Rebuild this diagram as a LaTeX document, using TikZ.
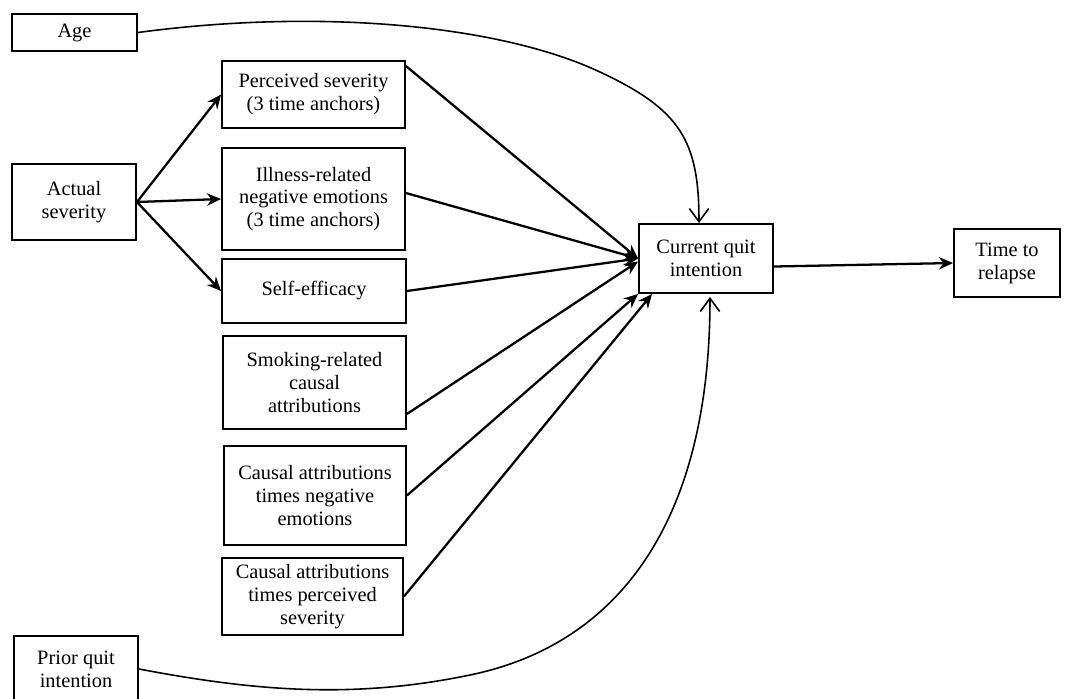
\documentclass[tikz,border=0pt]{standalone}
\usepackage{fontspec}
\setmainfont{Liberation Serif}
\usetikzlibrary{arrows.meta}
\usetikzlibrary{calc}

\tikzset{
	varbox/.style={draw, line width=1.1pt, align=center, inner sep=1pt, font=\fontsize{11.6}{13}\selectfont},
	effect/.style={line width=1.3pt, -{Stealth[length=8pt, width=7pt]}},
	control/.style={line width=0.9pt, -{Straight Barb[length=7.5pt, width=11pt]}},
}

\begin{document}
\begin{tikzpicture}[x=0.02cm, y=-0.02cm]

		\useasboundingbox (0,0) rectangle (1073,698);
		\clip (0,0) rectangle (1073,698);

		%covariates
		\node[varbox, minimum width=2.5cm, minimum height=0.74cm] (age) at (74.5,32.5) {Age};
		\node[varbox, minimum width=2.48cm, minimum height=1.32cm] (prior) at (76,669) {Prior quit\\intention};

		%predictor
		\node[varbox, minimum width=2.48cm, minimum height=1.52cm] (act) at (74,202) {Actual\\severity};

		%mediators and attributions
		\node[varbox, minimum width=3.66cm, minimum height=1.34cm] (perc) at (313.5,94.5) {Perceived severity\\(3 time anchors)};
		\node[varbox, minimum width=3.66cm, minimum height=2.04cm] (ill) at (313.5,199) {Illness-related\\negative emotions\\(3 time anchors)};
		\node[varbox, minimum width=3.68cm, minimum height=1.28cm] (self) at (314,291) {Self-efficacy};
		\node[varbox, minimum width=3.66cm, minimum height=1.86cm] (smok) at (314.5,382.5) {Smoking-related\\causal\\attributions};
		\node[varbox, minimum width=3.64cm, minimum height=1.98cm] (cneg) at (315,495.5) {Causal attributions\\times negative\\emotions};
		\node[varbox, minimum width=3.62cm, minimum height=1.54cm] (cperc) at (312.5,596.5) {Causal attributions\\times perceived\\severity};

		%outcomes
		\node[varbox, minimum width=2.68cm, minimum height=1.38cm] (cur) at (706,258.5) {Current quit\\intention};
		\node[varbox, minimum width=2.12cm, minimum height=1.36cm] (time) at (1007,263) {Time to\\relapse};

		%actual severity paths
		\draw[effect] (act.east) -- (perc.west);
		\draw[effect] (act.east) -- (ill.west);
		\draw[effect] (act.east) -- (self.west);

		%paths into current quit intention
		\draw[effect] ($(perc.north east)+(0,6)$) -- (cur.west);
		\draw[effect] ($(ill.east)+(0,-6)$) -- (cur.west);
		\draw[effect] (self.east) -- (cur.west);
		\draw[effect] ($(smok.south east)+(0,-16)$) -- ($(cur.west)+(0,3)$);
		\draw[effect] (cneg.east) -- (cur.south west);
		\draw[effect] (cperc.east) -- ($(cur.south west)+(14,0)$);

		%outcome path
		\draw[effect] ($(cur.east)+(0,8)$) -- (time.west);

		%covariate curves
		\draw[control] (age.east) .. controls (320,8) and (500,25) .. (600,72)
			.. controls (680,109.5) and (699,140) .. ($(cur.north)+(-7,0)$);
		\draw[control] (prior.east) .. controls (250,690) and (350,700) .. (470,675)
			.. controls (620,644) and (710,520) .. ($(cur.south)+(4,3)$);

	\end{tikzpicture}
\end{document}
